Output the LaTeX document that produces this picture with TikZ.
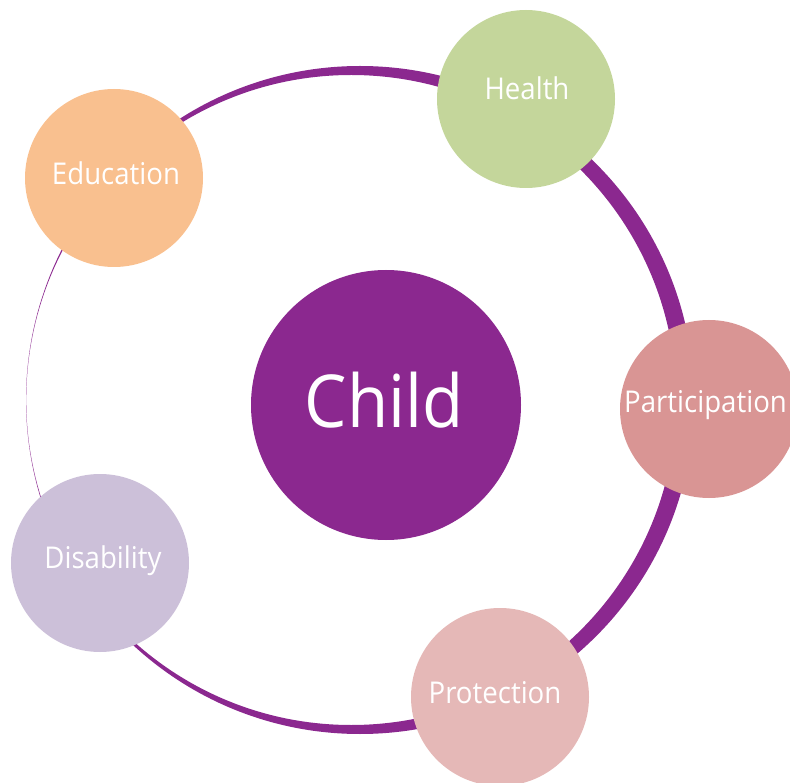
\documentclass[tikz,border=0pt]{standalone}
\usepackage{fontspec}
\setmainfont{Open Sans}[FakeStretch=0.92]
\definecolor{ringpurple}{HTML}{8B288F}
\definecolor{healthgreen}{HTML}{C4D69B}
\definecolor{eduorange}{HTML}{F9C08F}
\definecolor{partrose}{HTML}{D99594}
\definecolor{dislilac}{HTML}{CCC0D9}
\definecolor{protpink}{HTML}{E5B8B7}
\tikzset{
  topic/.style={circle, minimum size=178pt, inner sep=0pt, draw=none},
  topiclabel/.style={anchor=base, inner sep=0pt, text=white, font=\fontsize{30}{30}\selectfont},
}
\begin{document}
\begin{tikzpicture}[x=1pt, y=-1pt]
  \useasboundingbox (0,0) rectangle (790,783);
  \clip (0,0) rectangle (790,783);
  % crescent-shaped ring: thick on the right, vanishing on the left
  \fill[ringpurple, even odd rule]
    (360,400) circle[radius=334pt]
    (351.2,400) circle[radius=325pt];
  % central circle
  \node[circle, minimum size=270pt, inner sep=0pt, fill=ringpurple] (child) at (386,405) {};
  \node[anchor=base, inner sep=0pt, text=white, font=\fontsize{73}{73}\selectfont] (childtxt) at (384,428) {Child};
  % surrounding topics
  \node[topic, fill=healthgreen] (health) at (526,99) {};
  \node[topic, fill=eduorange] (education) at (114,178) {};
  \node[topic, fill=partrose] (participation) at (709,409) {};
  \node[topic, fill=dislilac] (disability) at (100,563) {};
  \node[topic, fill=protpink] (protection) at (500,697) {};
  \node[topiclabel] (healthtxt) at (527,100) {Health};
  \node[topiclabel] (educationtxt) at (116,185) {Education};
  \node[topiclabel, anchor=base west] (participationtxt) at (624,413) {Participation};
  \node[topiclabel] (disabilitytxt) at (103,568) {Disability};
  \node[topiclabel] (protectiontxt) at (495,703) {Protection};
\end{tikzpicture}
\end{document}
